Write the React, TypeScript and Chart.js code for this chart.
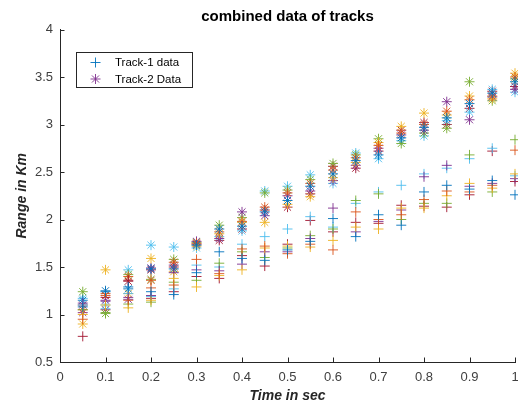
import React, { useEffect, useRef } from "react";
import { Chart, registerables } from "chart.js";

Chart.register(...registerables);

const TIMES = [0.05, 0.1, 0.15, 0.2, 0.25, 0.3, 0.35, 0.4, 0.45, 0.5, 0.55, 0.6, 0.65, 0.7, 0.75, 0.8, 0.85, 0.9, 0.95, 1.0];

const TRACK1_RUN1 = [1.08, 1.24, 1.29, 1.24, 1.21, 1.44, 1.66, 1.59, 1.57, 1.68, 1.77, 2.01, 1.82, 2.05, 1.94, 2.29, 2.36, 2.32, 2.41, 2.26];
const TRACK1_RUN2 = [0.95, 1.22, 1.15, 1.28, 1.31, 1.58, 1.43, 1.69, 1.72, 1.64, 1.74, 1.68, 2.08, 2.0, 2.05, 2.21, 2.3, 2.29, 2.36, 2.73];
const TRACK1_RUN3 = [1.0, 1.1, 1.07, 1.15, 1.38, 1.29, 1.41, 1.47, 1.7, 1.72, 1.71, 1.78, 1.92, 1.9, 2.12, 2.12, 2.25, 2.38, 2.33, 2.48];
const TRACK1_RUN4 = [1.12, 1.14, 1.18, 1.2, 1.44, 1.47, 1.46, 1.53, 1.66, 1.66, 1.8, 2.12, 1.87, 1.98, 2.1, 2.45, 2.57, 2.35, 2.38, 2.43];
const TRACK1_RUN5 = [1.05, 1.02, 1.11, 1.13, 1.34, 1.36, 1.54, 1.66, 1.6, 1.7, 1.83, 1.9, 2.2, 2.27, 2.0, 2.17, 2.17, 2.68, 2.29, 2.84];
const TRACK1_RUN6 = [1.1, 1.06, 1.22, 1.19, 1.27, 1.52, 1.5, 1.74, 1.82, 1.9, 2.03, 1.92, 2.17, 2.29, 2.36, 2.48, 2.54, 2.64, 2.75, 2.46];
const TRACK1_RUN7 = [0.77, 1.18, 1.36, 1.17, 1.24, 1.4, 1.38, 1.62, 1.51, 1.74, 1.99, 1.87, 1.97, 1.96, 2.15, 2.14, 2.13, 2.26, 2.72, 2.4];

const TRACK2_RUN1 = [1.15, 1.25, 1.27, 1.48, 1.48, 1.73, 1.9, 1.93, 2.08, 2.2, 2.35, 2.48, 2.62, 2.68, 2.86, 2.97, 3.07, 3.22, 3.33, 3.45];
const TRACK2_RUN2 = [1.05, 1.2, 1.4, 1.36, 1.55, 1.75, 1.87, 1.98, 2.13, 2.28, 2.38, 2.52, 2.65, 2.78, 2.91, 3.0, 3.14, 3.26, 3.3, 3.5];
const TRACK2_RUN3 = [0.9, 1.47, 1.22, 1.59, 1.45, 1.72, 1.85, 1.97, 1.97, 2.16, 2.24, 2.44, 2.6, 2.81, 2.98, 3.12, 3.1, 3.3, 3.27, 3.54];
const TRACK2_RUN4 = [1.02, 1.15, 1.16, 1.49, 1.52, 1.77, 1.8, 2.08, 2.04, 2.25, 2.3, 2.41, 2.57, 2.75, 2.89, 2.94, 3.24, 3.05, 3.29, 3.37];
const TRACK2_RUN5 = [1.24, 1.01, 1.42, 1.37, 1.58, 1.76, 1.94, 2.02, 2.28, 2.31, 2.42, 2.59, 2.68, 2.85, 2.8, 2.91, 2.96, 3.45, 3.25, 3.48];
const TRACK2_RUN6 = [1.17, 1.1, 1.47, 1.73, 1.71, 1.7, 1.82, 1.88, 2.3, 2.35, 2.47, 2.38, 2.7, 2.64, 2.83, 2.88, 3.04, 3.13, 3.37, 3.34];
const TRACK2_RUN7 = [1.1, 1.05, 1.35, 1.47, 1.5, 1.74, 1.78, 1.9, 2.1, 2.13, 2.27, 2.56, 2.54, 2.72, 2.94, 3.02, 3.0, 3.17, 3.35, 3.4];

const TRACK1_RUNS = [TRACK1_RUN1, TRACK1_RUN2, TRACK1_RUN3, TRACK1_RUN4, TRACK1_RUN5, TRACK1_RUN6, TRACK1_RUN7];
const TRACK2_RUNS = [TRACK2_RUN1, TRACK2_RUN2, TRACK2_RUN3, TRACK2_RUN4, TRACK2_RUN5, TRACK2_RUN6, TRACK2_RUN7];

const LEGEND_LABELS = ["Track-1 data", "Track-2 Data"];
const TITLE = "combined data of tracks";
const X_TITLE = "Time in sec";
const Y_TITLE = "Range in Km";

const COLORS = [
  "rgba(0,114,189,0.9)",
  "rgba(217,83,25,0.9)",
  "rgba(237,177,32,0.9)",
  "rgba(126,47,142,0.9)",
  "rgba(119,172,48,0.9)",
  "rgba(77,190,238,0.9)",
  "rgba(162,20,47,0.9)",
];

const FONT = "'Liberation Sans', Arial, Helvetica, sans-serif";

function drawMarker(ctx: CanvasRenderingContext2D, kind: string, x: number, y: number, r: number) {
  ctx.beginPath();
  ctx.moveTo(x - r, y);
  ctx.lineTo(x + r, y);
  ctx.moveTo(x, y - r);
  ctx.lineTo(x, y + r);
  if (kind === "star") {
    const d = r * Math.SQRT1_2;
    ctx.moveTo(x - d, y - d);
    ctx.lineTo(x + d, y + d);
    ctx.moveTo(x - d, y + d);
    ctx.lineTo(x + d, y - d);
  }
  ctx.stroke();
}

const fmt = (v: any) => String(Math.round(Number(v) * 100) / 100);

const decorPlugin = {
  id: "decor",
  afterDraw(chart: any) {
    const ctx = chart.ctx;
    const area = chart.chartArea;
    const xs = chart.scales.x;
    const ys = chart.scales.y;
    ctx.save();
    ctx.strokeStyle = "#262626";
    ctx.lineWidth = 1;
    ctx.beginPath();
    xs.ticks.forEach((t: any) => {
      const px = Math.round(xs.getPixelForValue(t.value)) + 0.5;
      ctx.moveTo(px, area.bottom);
      ctx.lineTo(px, area.bottom - 4.5);
    });
    ys.ticks.forEach((t: any) => {
      const py = Math.round(ys.getPixelForValue(t.value)) + 0.5;
      ctx.moveTo(area.left, py);
      ctx.lineTo(area.left + 4.5, py);
    });
    ctx.stroke();

    const cx = (area.left + area.right) / 2;
    ctx.fillStyle = "#000";
    ctx.textAlign = "center";
    ctx.textBaseline = "middle";
    ctx.font = `bold 15px ${FONT}`;
    ctx.fillText(TITLE, cx, 17);

    ctx.font = `italic bold 14px ${FONT}`;
    ctx.fillStyle = "#262626";
    ctx.fillText(X_TITLE, cx, 396);
    ctx.save();
    ctx.translate(22, (area.top + area.bottom) / 2);
    ctx.rotate(-Math.PI / 2);
    ctx.fillText(Y_TITLE, 0, 0);
    ctx.restore();

    const lx = 76.5, ly = 52.5, lw = 116, lh = 35;
    ctx.fillStyle = "#fff";
    ctx.fillRect(lx, ly, lw, lh);
    ctx.strokeStyle = "#262626";
    ctx.lineWidth = 1;
    ctx.strokeRect(lx, ly, lw, lh);
    ctx.font = `11.5px ${FONT}`;
    ctx.textAlign = "left";
    const rows = [62.5, 79];
    const styles = ["cross", "star"];
    const cols = [COLORS[0], COLORS[3]];
    rows.forEach((ry, i) => {
      ctx.strokeStyle = cols[i];
      ctx.lineWidth = 1;
      drawMarker(ctx, styles[i], 95.5, ry, 5);
      ctx.fillStyle = "#000";
      ctx.fillText(LEGEND_LABELS[i], 115, ry + 0.5);
    });
    ctx.restore();
  },
};

export default function App() {
  const ref = useRef<HTMLCanvasElement>(null);
  useEffect(() => {
    const canvas = ref.current!;
    const datasets: any[] = [];
    TRACK1_RUNS.forEach((run, i) => {
      datasets.push({
        label: LEGEND_LABELS[0],
        data: run.map((v, j) => ({ x: TIMES[j], y: v })),
        pointStyle: "cross",
        pointRadius: 5,
        pointBorderWidth: 1,
        borderColor: COLORS[i % COLORS.length],
        backgroundColor: COLORS[i % COLORS.length],
        showLine: false,
        clip: false,
      });
    });
    TRACK2_RUNS.forEach((run, i) => {
      datasets.push({
        label: LEGEND_LABELS[1],
        data: run.map((v, j) => ({ x: TIMES[j], y: v })),
        pointStyle: "star",
        pointRadius: 5,
        pointBorderWidth: 1,
        borderColor: COLORS[i % COLORS.length],
        backgroundColor: COLORS[i % COLORS.length],
        showLine: false,
        clip: false,
      });
    });
    const chart = new Chart(canvas, {
      type: "scatter",
      data: { datasets },
      options: {
        animation: false,
        responsive: false,
        devicePixelRatio: 1,
        layout: { autoPadding: false, padding: { top: 29.5, right: 3, left: 0, bottom: 0 } },
        plugins: { legend: { display: false }, title: { display: false }, tooltip: { enabled: false } },
        events: [],
        scales: {
          x: {
            type: "linear",
            min: 0,
            max: 1,
            afterFit: (s: any) => { s.height = 41; s.paddingRight = 0; s.paddingLeft = 0; },
            grid: { display: false, drawTicks: false },
            border: { display: true, color: "#262626", width: 1 },
            ticks: { stepSize: 0.1, padding: 8, color: "#404040", font: { family: FONT, size: 13 }, maxRotation: 0, autoSkip: false, callback: fmt },
          },
          y: {
            type: "linear",
            min: 0.5,
            max: 4,
            afterFit: (s: any) => { s.width = 60; s.paddingTop = 0; s.paddingBottom = 0; },
            grid: { display: false, drawTicks: false },
            border: { display: true, color: "#262626", width: 1 },
            ticks: { stepSize: 0.5, padding: 7, color: "#404040", font: { family: FONT, size: 13 }, callback: fmt },
          },
        },
      } as any,
      plugins: [decorPlugin],
    });
    return () => chart.destroy();
  }, []);
  return (
    <div style={{ position: "fixed", left: 0, top: 0, width: 518, height: 403, background: "#fff" }}>
      <canvas ref={ref} width={518} height={403} style={{ display: "block" }} />
    </div>
  );
}
